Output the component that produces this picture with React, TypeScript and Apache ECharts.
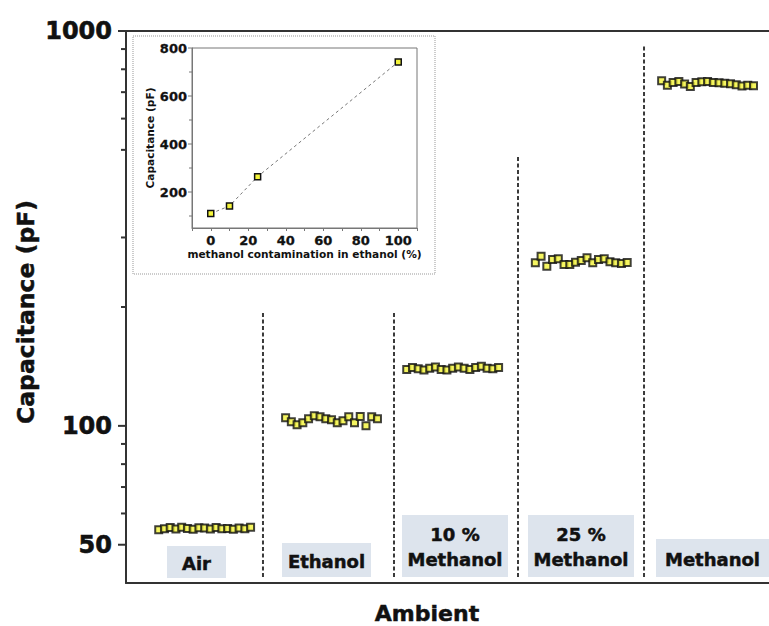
import React, { useEffect, useRef } from "react";
import * as echarts from "echarts";

// ---------- data ----------
const segmentNames = ["Air", "Ethanol", "10 %\nMethanol", "25 %\nMethanol", "Methanol"];
const segmentStarts = [5.7, 27.8, 48.9, 71.3, 93.3];
const airValues = [54.6, 54.9, 55.3, 54.8, 55.4, 55.0, 54.7, 55.2, 55.1, 54.8, 55.3, 54.9, 55.0, 54.7, 55.1, 54.9, 55.4];
const ethanolValues = [104.8, 102.5, 100.6, 101.9, 104.2, 106.0, 105.4, 104.2, 103.6, 101.8, 103.1, 105.4, 101.8, 105.6, 100.0, 105.4, 104.2];
const meth10Values = [139.0, 140.5, 139.5, 138.5, 140.0, 141.0, 139.0, 138.5, 140.0, 141.0, 140.0, 139.0, 140.5, 141.5, 140.0, 139.5, 140.5];
const meth25Values = [258.7, 269.0, 253.6, 263.8, 264.9, 256.2, 256.2, 259.7, 262.3, 266.5, 258.7, 263.8, 264.9, 260.3, 258.7, 257.7, 259.2];
const methanolValues = [748, 729, 741, 745, 734, 724, 741, 744, 745, 741, 739, 737, 735, 731, 726, 729, 727];
const separatorX = [23.86, 46.68, 68.28, 90.23];
const separatorTop = [194, 194, 487, 916];
const separatorBottom = 41.4;
const yMajorTicks = [50, 100, 1000];
const yMinorTicks = [60, 70, 80, 90, 200, 300, 500, 600, 700, 800, 900];

const insetX = [0, 10, 25, 100];
const insetY = [110, 142, 264, 742];
const insetYMajor = [200, 400, 600, 800];
const insetYMinor = [100, 300, 500, 700];

const FONT = '"DejaVu Sans", Verdana, sans-serif';
const YELLOW = "#f4f43a";
const INK = "#111";

export default function App() {
  const ref = useRef<HTMLDivElement>(null);
  useEffect(() => {
    const chart = echarts.init(ref.current!, null, { renderer: "svg" });
    const segs = [airValues, ethanolValues, meth10Values, meth25Values, methanolValues];

    const scatterSeries = segs.map((vals, k) => ({
      type: "scatter",
      xAxisIndex: 0,
      yAxisIndex: 0,
      symbol: "rect",
      symbolSize: 7,
      itemStyle: { color: YELLOW, borderColor: INK, borderWidth: 2 },
      data: vals.map((v, i) => [segmentStarts[k] + i, v]),
      z: 5,
    }));

    const sepSeries = separatorX.map((x, k) => ({
      type: "line",
      xAxisIndex: 0,
      yAxisIndex: 0,
      symbol: "none",
      lineStyle: { color: "#3a3a3a", width: 2, type: [4, 2.5] },
      data: [
        [x, separatorBottom],
        [x, separatorTop[k]],
      ],
      z: 3,
    }));

    const mainTickData = [
      ...yMajorTicks.map((v) => [0, v, 1]),
      ...yMinorTicks.map((v) => [0, v, 0]),
    ];

    const insetTickData = [
      ...insetYMajor.map((v) => [-10, v, 1]),
      ...insetYMinor.map((v) => [-10, v, 0]),
    ];

    const heavy = { textBorderColor: INK, textBorderWidth: 0.5 };

    const option: any = {
      animation: false,
      backgroundColor: "#fff",
      grid: [
        { left: 126, top: 31, right: 0, bottom: 43 },
        { left: 192, top: 48, width: 225, height: 180, show: true, borderColor: "#777", borderWidth: 1, backgroundColor: "transparent", z: 10 },
      ],
      xAxis: [
        {
          type: "value", gridIndex: 0, min: 0, max: 112, position: "bottom",
          axisLine: { show: true, onZero: false, lineStyle: { color: "#333", width: 2 } },
          axisTick: { show: false }, axisLabel: { show: false }, splitLine: { show: false },
        },
        {
          type: "value", gridIndex: 0, min: 0, max: 112, position: "top",
          axisLine: { show: true, onZero: false, lineStyle: { color: "#333", width: 2 } },
          axisTick: { show: false }, axisLabel: { show: false }, splitLine: { show: false },
        },
        {
          type: "value", gridIndex: 1, min: -10, max: 110, interval: 10, z: 12,
          axisLine: { show: true, onZero: false, lineStyle: { color: "#777", width: 1 } },
          axisTick: { show: true, length: 3, lineStyle: { color: "#777" } },
          axisLabel: {
            margin: 6, fontFamily: FONT, fontWeight: "bold", fontSize: 13, color: INK, ...heavy, textBorderWidth: 0.3,
            formatter: (v: number) => (v >= 0 && v <= 100 && v % 20 === 0 ? String(v) : ""),
          },
          splitLine: { show: false },
          name: "methanol contamination in ethanol (%)",
          nameLocation: "middle", nameGap: 20,
          nameTextStyle: { fontFamily: FONT, fontWeight: "bold", fontSize: 10.6, color: INK },
        },
      ],
      yAxis: [
        {
          type: "log", logBase: 10, gridIndex: 0, min: 40, max: 1000,
          axisLine: { show: true, onZero: false, lineStyle: { color: "#333", width: 2 } },
          axisTick: { show: false }, axisLabel: { show: false }, splitLine: { show: false }, minorTick: { show: false },
          name: "Capacitance (pF)", nameLocation: "middle", nameGap: 88,
          nameTextStyle: { fontFamily: FONT, fontWeight: "bold", fontSize: 23.5, color: INK, ...heavy, padding: [0, 10, 0, 0] },
        },
        {
          type: "value", gridIndex: 1, min: 50, max: 800, interval: 50, z: 12,
          axisLine: { show: true, onZero: false, lineStyle: { color: "#777", width: 1 } },
          axisTick: { show: false },
          axisLabel: {
            margin: 5, fontFamily: FONT, fontWeight: "bold", fontSize: 13, color: INK, ...heavy, textBorderWidth: 0.3,
            formatter: (v: number) => (v % 200 === 0 ? String(v) : ""),
          },
          splitLine: { show: false },
          name: "Capacitance (pF)", nameLocation: "middle", nameGap: 36,
          nameTextStyle: { fontFamily: FONT, fontWeight: "bold", fontSize: 10.6, color: INK },
        },
      ],
      graphic: [
        {
          type: "rect", z: 1,
          shape: { x: 133, y: 36, width: 302, height: 238 },
          style: { fill: "#fff", stroke: "#999", lineWidth: 1, lineDash: [1, 1] },
        },
        { type: "text", x: 427, y: 613, style: { text: "Ambient", align: "center", verticalAlign: "middle", fontFamily: FONT, fontWeight: "bold", fontSize: 22, fill: INK, stroke: INK, lineWidth: 0.5 } },
        // category labels
        ...[
          { x: 167, y: 546, w: 59, h: 32 },
          { x: 282, y: 543, w: 89, h: 34 },
          { x: 402, y: 515, w: 106, h: 62 },
          { x: 528, y: 515, w: 106, h: 62 },
          { x: 656, y: 539, w: 113, h: 38 },
        ].flatMap((b, k) => [
          { type: "rect", z: 2, shape: { x: b.x, y: b.y, width: b.w, height: b.h }, style: { fill: "#dde4ed" } },
          {
            type: "text", z: 3, x: b.x + b.w / 2, y: b.y + b.h / 2 + 1,
            style: { text: segmentNames[k], align: "center", verticalAlign: "middle", fontFamily: FONT, fontWeight: "bold", fontSize: 18, lineHeight: 25, fill: INK, stroke: INK, lineWidth: 0.5 },
          },
        ]),
      ],
      series: [
        ...sepSeries,
        ...scatterSeries,
        {
          type: "custom",
          xAxisIndex: 0, yAxisIndex: 0,
          clip: false,
          z: 6,
          data: mainTickData,
          encode: { x: 0, y: 1 },
          renderItem: (_p: any, api: any) => {
            const v = api.value(1);
            const major = api.value(2);
            const pt = api.coord([api.value(0), v]);
            const len = major ? 8 : 5;
            const children: any[] = [
              { type: "line", shape: { x1: pt[0] - len, y1: pt[1], x2: pt[0], y2: pt[1] }, style: { stroke: "#333", lineWidth: 2 } },
            ];
            if (major) {
              children.push({
                type: "text",
                style: { text: String(v), x: pt[0] - 14, y: pt[1], align: "right", verticalAlign: "middle", fontFamily: FONT, fontWeight: "bold", fontSize: 24, fill: INK, stroke: INK, lineWidth: 0.6 },
              });
            }
            return { type: "group", children };
          },
        },
        {
          type: "custom",
          xAxisIndex: 2, yAxisIndex: 1,
          clip: false,
          z: 12,
          data: insetTickData,
          encode: { x: 0, y: 1 },
          renderItem: (_p: any, api: any) => {
            const major = api.value(2);
            const pt = api.coord([api.value(0), api.value(1)]);
            const len = major ? 4 : 3;
            return { type: "line", shape: { x1: pt[0] - len, y1: pt[1], x2: pt[0], y2: pt[1] }, style: { stroke: "#777", lineWidth: 1 } };
          },
        },
        {
          type: "line",
          xAxisIndex: 2, yAxisIndex: 1,
          z: 12,
          symbol: "rect",
          symbolSize: 6,
          showAllSymbol: true,
          lineStyle: { color: "#777", width: 1, type: [3, 3] },
          itemStyle: { color: YELLOW, borderColor: INK, borderWidth: 1.5 },
          data: insetX.map((x, i) => [x, insetY[i]]),
        },
      ],
    };
    chart.setOption(option);
    return () => chart.dispose();
  }, []);
  return <div ref={ref} style={{ position: "fixed", left: 0, top: 0, width: 769, height: 626 }} />;
}
